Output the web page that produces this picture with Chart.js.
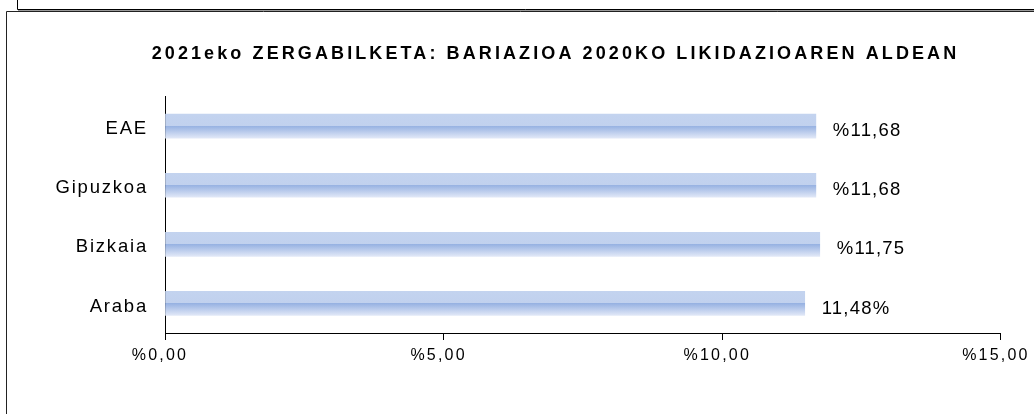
<!DOCTYPE html>
<html>
<head>
<meta charset="utf-8">
<script src="https://cdn.jsdelivr.net/npm/chart.js@4/dist/chart.umd.min.js"></script>
<style>
html,body{margin:0;padding:0;background:#fff;}
#wrap{width:1034px;height:414px;}
</style>
</head>
<body>
<div id="wrap"><canvas id="c" width="1034" height="414"></canvas></div>
<script>
const categories = ["EAE", "Gipuzkoa", "Bizkaia", "Araba"];
const values = [11.68, 11.68, 11.75, 11.48];
const valueLabels = ["%11,68", "%11,68", "%11,75", "11,48%"];
const xTickLabels = {0: "%0,00", 5: "%5,00", 10: "%10,00", 15: "%15,00"};
const titleText = "2021eko ZERGABILKETA: BARIAZIOA 2020KO LIKIDAZIOAREN ALDEAN";

const BAR_T = 24;
const FONT = "'Liberation Sans', Arial, sans-serif";

function barFill(ctx) {
  const chart = ctx.chart;
  const ys = chart.scales.y;
  if (!ys || ctx.dataIndex === undefined) return '#c1d2ee';
  const yc = ys.getPixelForValue(ctx.dataIndex);
  if (!isFinite(yc)) return '#c1d2ee';
  const g = chart.ctx.createLinearGradient(0, yc - BAR_T / 2, 0, yc + BAR_T / 2);
  g.addColorStop(0, '#c3d3ef');
  g.addColorStop(0.49, '#c1d1ee');
  g.addColorStop(0.5, '#97b2e2');
  g.addColorStop(1, '#e1e8f7');
  return g;
}

function withSpacing(obj, method, spacing, dx) {
  if (!obj || obj['_sp_' + method]) return;
  const orig = obj[method].bind(obj);
  obj[method] = function (...args) {
    const c = this.ctx || obj.ctx;
    c.save();
    c.letterSpacing = spacing;
    if (dx) c.translate(dx, 0);
    const r = orig(...args);
    c.restore();
    return r;
  };
  obj['_sp_' + method] = true;
}

const spacingPlugin = {
  id: 'spacing',
  afterLayout(chart) {
    withSpacing(chart.scales.x, 'drawLabels', '2.2px', -5);
    withSpacing(chart.scales.y, 'drawLabels', '1.8px', 0);
    withSpacing(chart.titleBlock, 'draw', '3.1px', 52);
  }
};

const framePlugin = {
  id: 'frame',
  beforeDraw(chart) {
    const c = chart.ctx;
    c.save();
    c.fillStyle = '#fff';
    c.fillRect(0, 0, chart.width, chart.height);
    c.strokeStyle = '#000';
    c.lineWidth = 1;
    c.beginPath();
    c.moveTo(17.5, 0); c.lineTo(17.5, 9.5); c.lineTo(1034, 9.5);
    c.stroke();
    c.strokeStyle = '#9a9a9a';
    c.beginPath(); c.moveTo(18, 10.5); c.lineTo(1034, 10.5); c.stroke();
    c.strokeStyle = '#222';
    c.beginPath(); c.moveTo(1034, 11.5); c.lineTo(6.5, 11.5); c.lineTo(6.5, 414); c.stroke();
    c.restore();
  }
};

const valueLabelPlugin = {
  id: 'valueLabels',
  afterDatasetsDraw(chart) {
    const c = chart.ctx;
    const meta = chart.getDatasetMeta(0);
    c.save();
    c.font = "18.5px " + FONT;
    c.letterSpacing = '1.2px';
    c.fillStyle = '#000';
    c.textAlign = 'left';
    c.textBaseline = 'middle';
    meta.data.forEach((bar, i) => {
      c.fillText(valueLabels[i], bar.x + 17, bar.y + 5);
    });
    c.restore();
  }
};

const chart = new Chart(document.getElementById('c'), {
  type: 'bar',
  data: {
    labels: categories,
    datasets: [{
      data: values,
      backgroundColor: barFill,
      borderWidth: 0,
      barThickness: BAR_T
    }]
  },
  options: {
    indexAxis: 'y',
    responsive: false,
    animation: false,
    devicePixelRatio: 1,
    layout: { padding: { left: 0, right: 27, top: 0, bottom: 0 } },
    plugins: {
      legend: { display: false },
      tooltip: { enabled: false },
      title: {
        display: true,
        text: titleText,
        color: '#000',
        font: { family: FONT, size: 18, weight: 'bold' },
        padding: { top: 43, bottom: 32 }
      }
    },
    scales: {
      x: {
        min: 0, max: 15,
        ticks: {
          stepSize: 5,
          color: '#000',
          font: { family: FONT, size: 16 },
          padding: 6,
          maxRotation: 0,
          callback: (v) => xTickLabels[v]
        },
        grid: { drawOnChartArea: false, drawTicks: true, tickLength: 7, color: '#000' },
        border: { display: true, color: '#000', width: 1 },
        afterFit(scale) { scale.height = 81; }
      },
      y: {
        ticks: {
          color: '#000',
          font: { family: FONT, size: 18.5 },
          padding: 17,
          labelOffset: 3
        },
        grid: { display: false, drawTicks: false },
        border: { display: true, color: '#000', width: 1 },
        afterFit(scale) { scale.width = 165; }
      }
    }
  },
  plugins: [framePlugin, spacingPlugin, valueLabelPlugin]
});
chart.update();
</script>
</body>
</html>
